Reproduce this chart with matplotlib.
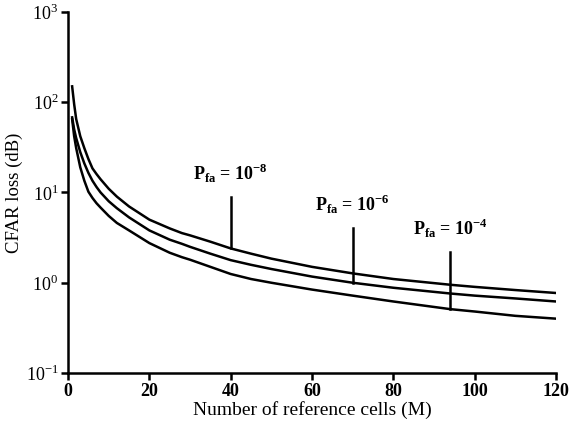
import matplotlib
matplotlib.use('Agg')
import matplotlib.pyplot as plt
from matplotlib.ticker import NullLocator

plt.rcParams['font.family'] = ['Liberation Serif', 'DejaVu Serif']
plt.rcParams['mathtext.fontset'] = 'custom'
plt.rcParams['mathtext.rm'] = 'Liberation Serif'
plt.rcParams['mathtext.bf'] = 'Liberation Serif:bold'

# reference cells M
cells = [1, 1.5, 2, 3, 4, 5, 6, 7, 8, 10, 12, 15, 20, 25, 28, 30, 35, 40,
         45, 50, 60, 70, 80, 94, 100, 110, 120]

# CFAR loss (dB) for each false alarm probability
loss_1e8 = [150, 95, 65, 42, 31, 23.5, 18.5, 16, 14, 11, 9.0, 7.0, 5.0, 4.0, 3.55, 3.35, 2.85, 2.4,
            2.1, 1.85, 1.5, 1.27, 1.1, 0.95, 0.9, 0.83, 0.77]
loss_1e6 = [68, 50, 40, 28, 21, 16.5, 13.5, 11.5, 10, 8.0, 6.7, 5.3, 3.8, 3.0, 2.7, 2.5, 2.1, 1.78,
            1.58, 1.42, 1.17, 1.0, 0.88, 0.76, 0.72, 0.67, 0.62]
loss_1e4 = [65, 42, 31, 19, 13.5, 10.2, 8.7, 7.6, 6.8, 5.5, 4.6, 3.8, 2.75, 2.15, 1.92, 1.8, 1.5, 1.25,
            1.1, 1.0, 0.84, 0.72, 0.62, 0.51, 0.48, 0.43, 0.4]

# annotation: label, M, curve value, top of marker line, label height
notes = [
    (r'P$_{\mathbf{fa}}$ = 10$^{\mathbf{-8}}$', 40, 2.4, 9.0, 12.0),
    (r'P$_{\mathbf{fa}}$ = 10$^{\mathbf{-6}}$', 70, 1.0, 4.0, 5.5),
    (r'P$_{\mathbf{fa}}$ = 10$^{\mathbf{-4}}$', 94, 0.51, 2.17, 3.0),
]

fig = plt.figure(figsize=(5.72, 4.28), dpi=100)
ax = fig.add_axes([0.119, 0.1285, 0.853, 0.8435])

for y in (loss_1e8, loss_1e6, loss_1e4):
    ax.plot(cells, y, color='black', lw=1.8)

for label, m, lo, hi, ty in notes:
    ax.plot([m, m], [lo, hi], color='black', lw=1.8)
    ax.text(m, ty, label, ha='center', va='bottom', fontsize=13, fontweight='bold')

ax.set_yscale('log')
ax.set_xlim(0, 120)
ax.set_ylim(0.1, 1000)
ax.set_xticks([0, 20, 40, 60, 80, 100, 120])
ax.set_yticks([0.1, 1, 10, 100, 1000])
ax.set_yticklabels([r'10$^{-1}$', r'10$^{0}$', r'10$^{1}$', r'10$^{2}$', r'10$^{3}$'])
ax.yaxis.set_minor_locator(NullLocator())

for s in ('top', 'right'):
    ax.spines[s].set_visible(False)
for s in ('left', 'bottom'):
    ax.spines[s].set_linewidth(1.8)
ax.tick_params(direction='out', length=5, width=1.8, labelsize=13, pad=2)
for t in ax.get_xticklabels():
    t.set_fontweight('bold')

ax.set_xlabel('Number of reference cells (M)', fontsize=14, labelpad=1)
ax.set_ylabel('CFAR loss (dB)', fontsize=13.5, labelpad=2)

fig.savefig('out.png', dpi=100)
